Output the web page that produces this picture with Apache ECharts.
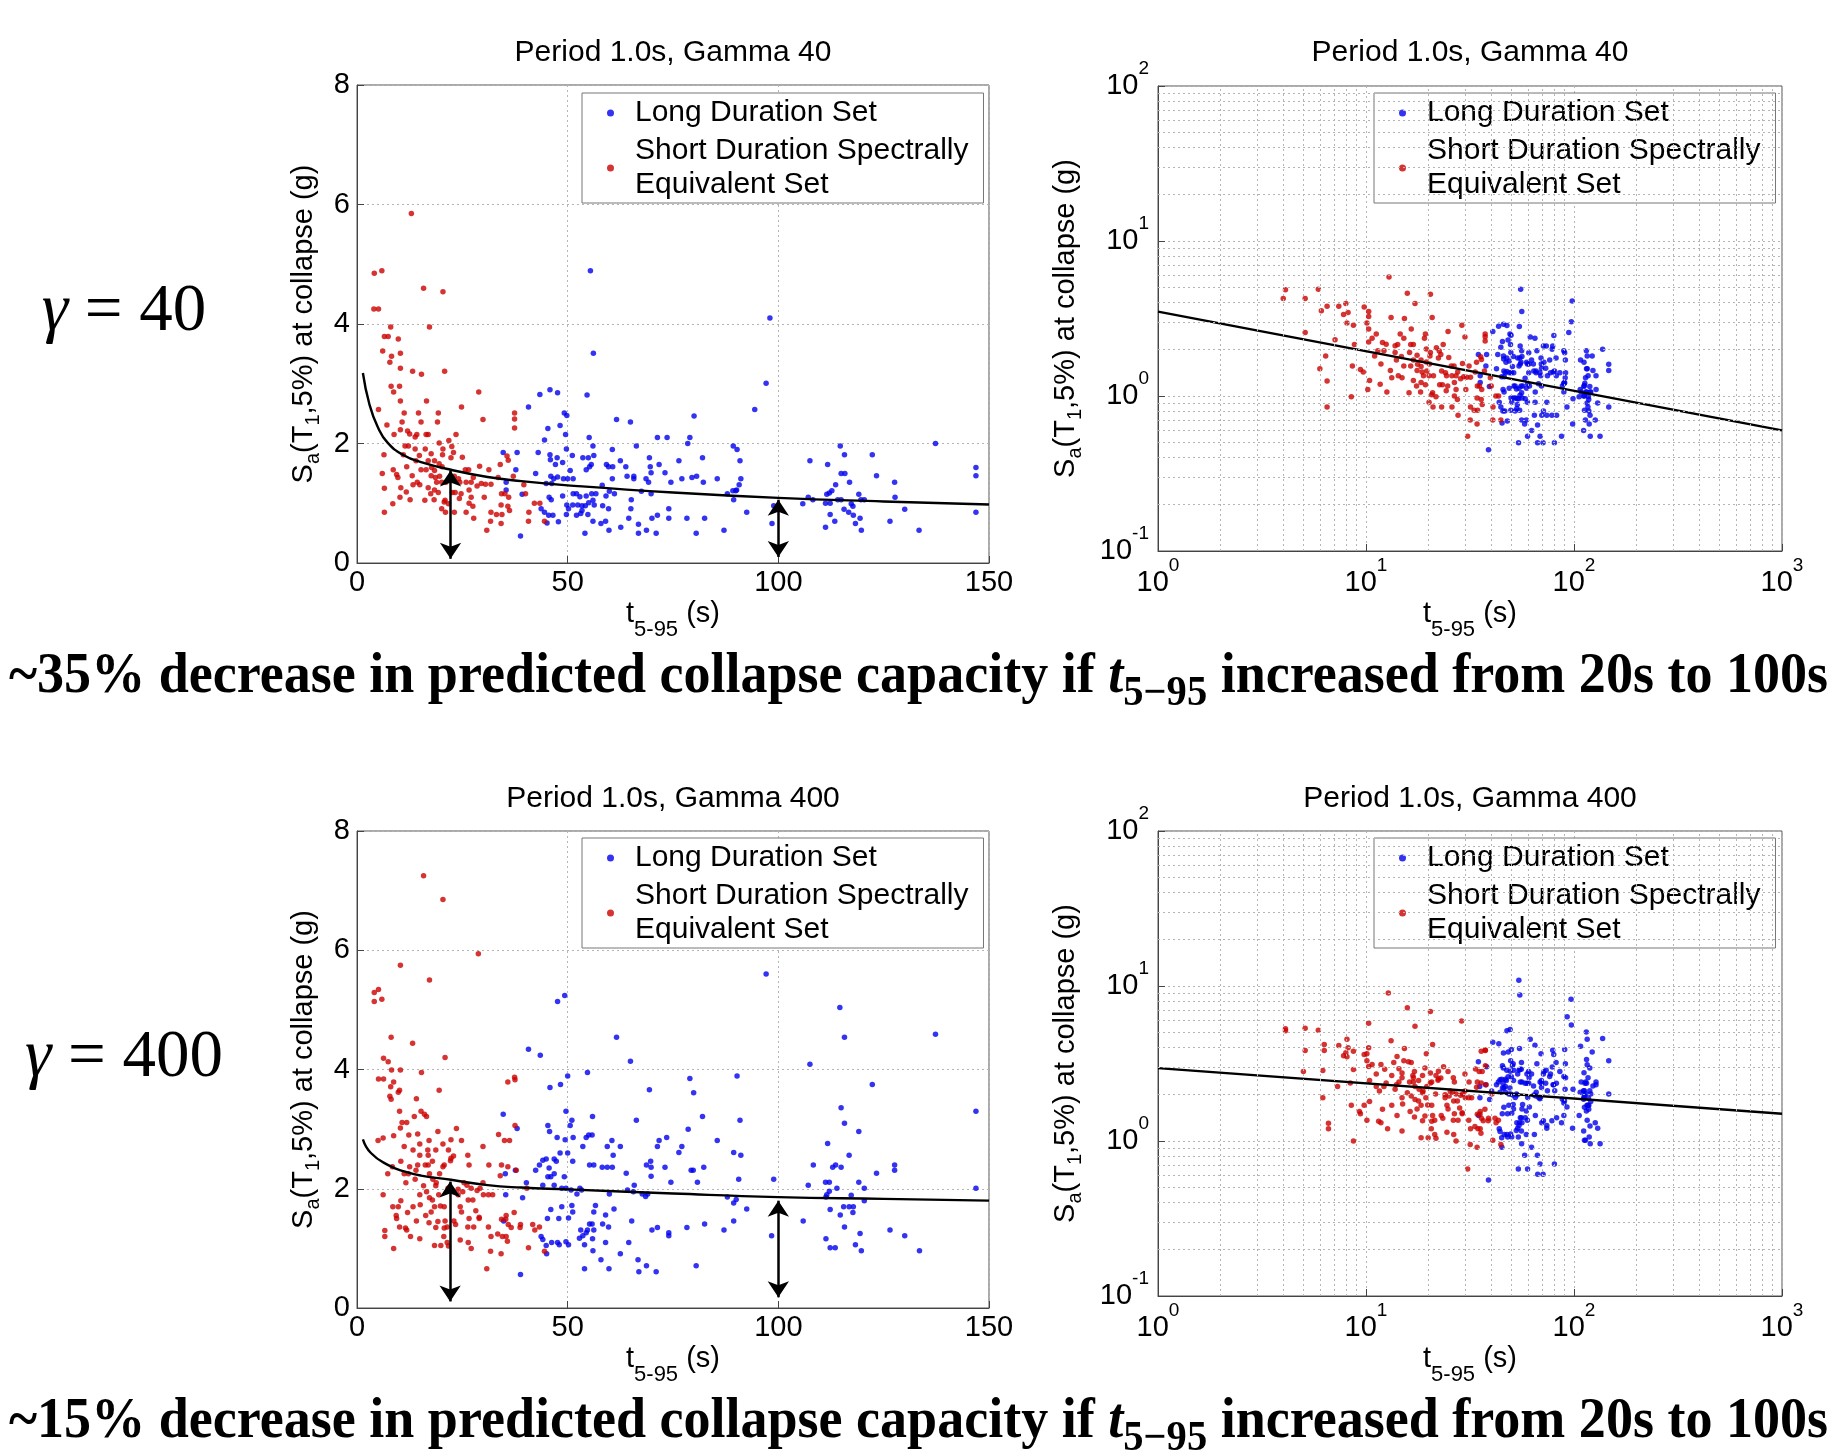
<!DOCTYPE html>
<html>
<head>
<meta charset="utf-8">
<script src="https://cdn.jsdelivr.net/npm/echarts@6/dist/echarts.min.js"></script>
<style>
html, body { margin: 0; padding: 0; background: #fff; }
#chart { width: 1827px; height: 1452px; }
</style>
</head>
<body>
<div id="chart"></div>
<script>
// t5-95 (s), Sa(T1,5%) at collapse (g)
var longG40 = [[43.4,2.82],[45.8,2.90],[47.6,2.85],[40.7,2.61],[49.2,2.51],[49.8,2.47],[45.3,2.25],[48.2,2.30],[44.5,2.06],[49.5,2.15],[49.7,1.91],[34.7,1.85],[38.0,1.85],[43.0,1.85],[45.8,1.81],[47.5,1.76],[45.9,1.73],[48.8,1.68],[47.1,1.65],[37.7,1.56],[42.4,1.50],[35.4,1.35],[46.0,1.45],[46.7,1.41],[47.6,1.44],[44.9,1.33],[46.2,1.33],[35.4,1.22],[39.2,1.15],[45.6,1.10],[46.1,1.06],[48.8,1.12],[43.7,0.91],[44.5,0.85],[45.5,0.80],[45.1,0.67],[46.5,0.80],[47.8,0.69],[49.7,0.81],[38.8,0.45],[49.8,0.97],
  [55.4,4.89],[98.0,4.10],[56.1,3.51],[97.1,3.01],[54.6,2.81],[94.4,2.57],[80.0,2.46],[61.6,2.40],[64.9,2.36],[55.1,2.10],[71.3,2.10],[73.6,2.10],[79.0,2.10],[78.5,2.00],[66.3,1.96],[56.0,1.96],[89.3,1.96],[90.2,1.90],[60.6,1.90],[51.1,1.80],[53.6,1.76],[54.9,1.76],[56.2,1.80],[69.4,1.76],[82.0,1.76],[90.9,1.71],[62.5,1.71],[76.4,1.71],[55.6,1.65],[55.2,1.61],[59.2,1.65],[59.7,1.61],[60.7,1.61],[63.8,1.61],[69.6,1.61],[71.7,1.65],[50.6,1.55],[54.4,1.56],[69.8,1.51],[73.1,1.51],[64.1,1.45],[65.7,1.45],[65.7,1.41],[60.6,1.41],[68.6,1.41],[69.2,1.35],[77.1,1.41],[79.5,1.43],[80.6,1.45],[85.5,1.41],[91.1,1.41],[90.7,1.31],[90.1,1.22],[49.0,1.41],[50.0,1.41],[51.3,1.41],[74.5,1.35],[82.2,1.35],[58.2,1.30],[59.9,1.20],[61.1,1.16],[67.5,1.20],[69.8,1.16],[87.9,1.16],[89.2,1.21],[89.9,1.21],[89.4,1.06],[51.3,1.16],[52.1,1.16],[52.9,1.11],[54.4,1.12],[55.7,1.16],[56.7,1.16],[56.0,1.05],[55.0,1.01],[56.3,0.97],[58.3,0.96],[59.1,1.12],[65.1,1.06],[65.0,0.91],[59.7,0.91],[50.2,0.91],[51.2,0.97],[52.4,0.97],[53.4,0.96],[54.2,0.96],[53.4,0.88],[52.1,0.80],[53.1,0.83],[54.8,0.81],[56.0,0.70],[57.9,0.66],[59.0,0.70],[59.8,0.55],[62.6,0.60],[64.5,0.75],[66.8,0.65],[66.8,0.50],[68.7,0.55],[71.0,0.50],[70.0,0.75],[71.3,0.80],[74.0,0.91],[74.0,0.75],[78.3,0.75],[80.5,0.50],[82.5,0.75],[87.1,0.55],[92.5,0.85],[98.5,0.66],[98.9,0.96],[54.1,0.50],
  [114.7,1.96],[137.3,2.00],[107.5,1.71],[115.7,1.81],[122.3,1.81],[111.7,1.65],[114.9,1.50],[115.8,1.50],[123.3,1.46],[127.6,1.35],[146.9,1.60],[146.9,1.46],[116.9,1.35],[113.6,1.31],[112.7,1.21],[112.1,1.17],[111.5,1.15],[119.1,1.15],[107.1,1.10],[108.2,1.06],[127.7,1.10],[105.8,0.99],[111.2,1.00],[112.3,1.00],[114.1,1.06],[114.9,1.06],[119.6,1.06],[120.4,1.06],[117.3,0.99],[117.7,0.95],[115.6,0.90],[116.7,0.85],[117.8,0.80],[130.0,0.90],[146.9,0.85],[112.3,0.81],[113.4,0.70],[119.4,0.75],[118.3,0.66],[111.2,0.60],[119.7,0.55],[126.5,0.70],[133.4,0.55]];

var shortG40 = [[12.9,5.85],[4.1,4.85],[5.9,4.89],[15.8,4.6],[20.4,4.54],[4.0,4.25],[5.1,4.25],[8.0,3.95],[17.2,3.95],[6.5,3.79],[7.4,3.79],[9.8,3.75],[6.1,3.55],[8.2,3.46],[10.3,3.51],[7.8,3.36],[10.3,3.26],[13.2,3.21],[15.3,3.16],[20.8,3.21],[8.1,2.96],[10.1,2.96],[8.7,2.86],[10.3,2.71],[16.5,2.71],[28.9,2.86],[24.8,2.61],[5.1,2.57],[11.2,2.51],[14.6,2.51],[19.3,2.51],[37.4,2.51],[37.4,2.41],[37.4,2.26],[29.9,2.40],[7.1,2.31],[10.7,2.36],[15.2,2.36],[19.1,2.36],[10.3,2.23],[12.0,2.21],[12.5,2.16],[8.8,2.15],[14.2,2.15],[16.4,2.15],[16.9,2.15],[13.8,2.11],[11.4,1.96],[12.2,1.96],[19.5,2.01],[21.8,2.05],[23.5,2.15],[13.8,1.91],[16.2,1.91],[20.4,1.91],[22.5,1.95],[6.4,1.81],[11.0,1.81],[14.8,1.80],[17.6,1.83],[20.3,1.81],[22.9,1.85],[25.0,1.77],[14.0,1.71],[16.9,1.71],[18.4,1.71],[19.5,1.66],[22.3,1.76],[8.6,1.56],[11.8,1.61],[15.2,1.56],[16.4,1.56],[17.7,1.60],[18.4,1.55],[20.2,1.61],[25.7,1.56],[26.5,1.56],[29.1,1.62],[31.3,1.56],[34.0,1.65],[35.9,1.72],[35.6,1.79],[6.0,1.50],[9.4,1.48],[9.7,1.43],[13.1,1.46],[17.6,1.46],[18.6,1.43],[19.6,1.45],[23.1,1.45],[24.1,1.41],[27.6,1.43],[33.5,1.43],[37.1,1.45],[14.3,1.35],[13.3,1.31],[14.9,1.31],[18.9,1.35],[20.1,1.35],[21.1,1.35],[24.4,1.35],[25.9,1.35],[27.1,1.35],[28.5,1.29],[29.5,1.33],[30.5,1.32],[31.8,1.32],[6.5,1.25],[10.4,1.26],[11.7,1.19],[16.9,1.26],[18.4,1.22],[17.5,1.16],[19.3,1.18],[22.6,1.18],[23.3,1.18],[24.7,1.16],[26.6,1.22],[34.3,1.16],[35.1,1.16],[39.6,1.31],[40.0,1.16],[10.2,1.10],[12.6,1.06],[16.1,1.05],[18.3,1.06],[20.9,1.05],[21.7,0.99],[24.3,1.08],[27.1,1.10],[30.2,1.10],[36.0,1.10],[8.5,0.99],[20.7,1.02],[20.1,0.91],[26.6,1.00],[27.5,0.95],[34.2,0.97],[35.8,0.95],[42.1,1.00],[43.4,1.00],[6.5,0.85],[21.0,0.85],[23.1,0.85],[25.9,0.85],[31.8,0.85],[33.1,0.81],[34.4,0.81],[36.2,0.88],[40.8,0.85],[27.7,0.75],[31.7,0.70],[34.2,0.66],[40.7,0.70],[44.5,0.70],[30.8,0.55]];

var longG400 = [[47.6,5.14],[49.3,5.24],[40.7,4.34],[43.5,4.24],[50.0,3.89],[45.8,3.70],[48.3,3.75],[34.7,3.25],[49.6,3.30],[45.3,3.06],[45.7,2.96],[38.0,3.01],[47.5,2.86],[49.4,2.82],[48.2,2.60],[50.0,2.60],[44.9,2.50],[44.1,2.48],[46.8,2.50],[47.3,2.46],[43.3,2.40],[45.6,2.35],[37.6,2.31],[42.4,2.31],[35.2,2.25],[46.8,2.25],[46.0,2.20],[45.3,2.20],[49.2,2.20],[40.2,2.10],[44.1,2.06],[46.8,2.06],[48.6,2.01],[35.3,1.90],[39.3,1.85],[46.0,1.65],[48.6,1.70],[45.2,1.50],[47.9,1.50],[34.8,1.46],[43.7,1.20],[44.1,1.15],[44.9,1.05],[46.2,1.10],[47.6,1.10],[45.0,0.91],[38.8,0.56],
  [54.3,10.9],[54.9,8.75],[96.8,8.2],[92.7,6.34],
  [97.1,5.60],[61.6,4.54],[64.9,4.14],[54.7,3.95],[79.0,3.85],[90.2,3.89],[69.4,3.66],[79.9,3.61],[55.9,3.21],[51.0,3.15],[50.6,3.06],[66.3,3.15],[82.0,3.21],[90.9,3.15],[78.6,3.00],[51.3,2.86],[54.4,2.86],[55.0,2.90],[55.8,2.90],[60.5,2.81],[71.7,2.81],[73.5,2.86],[85.5,2.81],[53.6,2.71],[59.4,2.71],[62.5,2.71],[71.3,2.71],[77.1,2.71],[76.4,2.61],[89.4,2.61],[91.1,2.56],[60.8,2.56],[51.2,2.46],[69.7,2.46],[55.2,2.40],[56.2,2.40],[58.2,2.36],[59.4,2.36],[60.6,2.36],[68.7,2.40],[69.8,2.36],[73.1,2.36],[79.3,2.31],[79.8,2.31],[82.3,2.36],[63.9,2.26],[69.8,2.21],[74.5,2.11],[80.8,2.11],[90.6,2.16],[98.9,2.16],[65.8,2.06],[49.6,2.01],[50.8,1.98],[52.9,2.01],[53.3,1.98],[52.2,1.91],[59.9,1.91],[64.2,1.98],[65.6,1.95],[67.7,1.91],[68.5,1.87],[69.0,1.91],[87.9,1.86],[90.0,1.82],[89.4,1.76],[51.0,1.72],[51.2,1.61],[56.6,1.72],[61.0,1.66],[50.2,1.51],[56.2,1.61],[59.0,1.56],[92.5,1.66],[55.2,1.41],[55.8,1.41],[56.2,1.31],[58.3,1.41],[59.7,1.36],[65.2,1.46],[82.5,1.41],[89.4,1.46],[53.1,1.31],[54.7,1.31],[54.4,1.26],[53.6,1.21],[52.8,1.17],[70.0,1.31],[71.3,1.35],[74.0,1.26],[74.0,1.21],[78.3,1.35],[87.1,1.31],[98.4,1.21],[48.0,1.06],[49.6,1.11],[50.2,1.06],[54.0,1.06],[55.9,1.16],[59.0,1.10],[64.5,1.10],[56.0,0.96],[62.5,0.91],[57.9,0.81],[66.7,0.81],[54.0,0.66],[59.8,0.66],[66.9,0.61],[68.7,0.71],[71.0,0.61],[80.5,0.71],
  [114.6,5.04],[137.3,4.59],[115.7,4.54],[107.5,4.09],[122.3,3.75],[114.9,3.36],[115.7,3.10],[119.1,2.96],[146.9,3.30],[111.7,2.76],[116.8,2.56],[108.3,2.40],[112.9,2.36],[113.6,2.40],[114.9,2.36],[127.6,2.40],[127.6,2.31],[123.3,2.26],[111.2,2.11],[112.1,2.11],[119.1,2.11],[107.1,2.06],[113.9,2.01],[120.4,2.01],[146.9,2.01],[112.1,1.96],[111.5,1.90],[111.3,1.86],[117.3,1.89],[120.4,1.80],[115.5,1.70],[116.8,1.70],[117.8,1.70],[112.3,1.65],[117.7,1.60],[114.7,1.56],[105.9,1.46],[115.7,1.36],[119.4,1.25],[126.5,1.31],[130.0,1.21],[111.3,1.16],[112.3,1.01],[113.5,1.01],[118.3,1.06],[119.7,0.96],[133.5,0.96]];

var shortG400 = [[12.8,9.0],[15.8,7.25],[20.4,6.85],[28.8,5.94],[10.3,5.75],[17.2,5.50],[4.1,5.29],[5.1,5.34],[4.1,5.14],[5.9,5.18],[8.1,4.54],[13.2,4.44],[6.3,4.19],[7.4,4.13],[20.9,4.20],[8.2,3.99],[10.3,3.99],[15.3,3.95],[5.1,3.84],[6.3,3.84],[8.7,3.79],[8.0,3.71],[35.8,3.79],[37.4,3.87],[37.5,3.83],[10.1,3.65],[9.8,3.62],[19.5,3.65],[7.8,3.55],[8.1,3.50],[14.1,3.51],[10.1,3.30],[15.2,3.30],[16.0,3.25],[16.5,3.21],[13.6,3.21],[10.7,3.11],[11.8,3.11],[37.5,3.06],[23.6,3.01],[10.3,3.02],[33.6,2.91],[8.7,2.89],[12.3,2.90],[14.4,2.92],[19.2,2.96],[6.2,2.85],[5.0,2.81],[17.1,2.81],[22.3,2.82],[24.8,2.81],[35.0,2.81],[36.2,2.81],[11.2,2.71],[14.9,2.75],[20.4,2.75],[29.9,2.71],[13.3,2.65],[16.8,2.65],[18.7,2.65],[21.7,2.65],[22.9,2.55],[22.3,2.51],[22.2,2.47],[14.9,2.56],[16.9,2.56],[17.9,2.46],[26.3,2.56],[10.4,2.46],[20.7,2.40],[20.4,2.37],[14.4,2.40],[16.2,2.40],[16.9,2.40],[26.6,2.40],[31.3,2.40],[34.3,2.40],[35.8,2.37],[37.8,2.31],[12.5,2.37],[14.0,2.31],[7.3,2.25],[11.2,2.25],[12.2,2.25],[17.2,2.25],[19.6,2.25],[34.0,2.22],[8.4,2.37],[13.8,2.16],[18.0,2.16],[18.8,2.10],[11.6,2.10],[25.4,2.10],[26.1,2.06],[29.9,2.10],[15.8,2.05],[18.7,2.05],[40.3,2.01],[21.6,2.01],[24.0,1.99],[27.1,2.01],[28.5,1.97],[29.2,2.01],[6.2,1.90],[14.9,1.90],[16.5,1.95],[19.4,1.90],[24.0,1.90],[25.1,1.95],[30.0,1.90],[31.2,1.90],[32.2,1.90],[17.2,1.85],[17.9,1.81],[26.4,1.81],[27.5,1.81],[10.4,1.80],[18.4,1.70],[19.8,1.71],[8.5,1.70],[9.8,1.70],[13.3,1.70],[15.0,1.73],[20.7,1.70],[24.5,1.70],[17.6,1.61],[28.2,1.63],[24.8,1.61],[12.0,1.60],[9.3,1.55],[9.4,1.50],[16.3,1.55],[35.4,1.55],[37.3,1.60],[35.3,1.49],[34.3,1.49],[29.0,1.52],[29.0,1.50],[14.1,1.46],[20.9,1.46],[17.1,1.43],[19.2,1.45],[23.0,1.46],[23.4,1.40],[26.6,1.50],[35.9,1.40],[38.8,1.40],[41.7,1.40],[10.1,1.36],[11.5,1.34],[11.8,1.31],[18.7,1.35],[20.7,1.34],[21.4,1.36],[26.3,1.36],[27.7,1.36],[31.2,1.36],[36.6,1.35],[38.7,1.35],[42.2,1.31],[43.3,1.36],[6.6,1.30],[6.6,1.20],[14.9,1.16],[20.6,1.20],[12.7,1.20],[31.8,1.20],[33.4,1.24],[34.5,1.20],[35.4,1.20],[35.7,1.12],[21.4,1.10],[21.7,1.04],[18.4,1.05],[19.9,1.05],[24.5,1.14],[26.4,1.10],[27.1,1.00],[8.7,1.00],[31.7,0.95],[34.2,0.91],[40.7,1.01],[44.5,0.95],[30.8,0.66]];

// fitted curve
var fitLinG40 = [[1.4,3.18],[2.9,2.67],[4.9,2.28],[7.3,2.01],[11.2,1.8],[15.2,1.69],[22.3,1.56],[31,1.44],[39,1.37],[50,1.3],[75,1.18],[100,1.09],[125,1.03],[150,0.98]];
var fitLinG400 = [[1.4,2.83],[3.3,2.6],[7.3,2.4],[11.2,2.29],[15.2,2.22],[22.3,2.15],[31,2.06],[39,2.02],[50,1.99],[75,1.92],[100,1.86],[125,1.83],[150,1.8]];
var fitLogG40 = [[1,3.5],[1000,0.6]];
var fitLogG400 = [[1,2.95],[1000,1.5]];

// double arrows: [t, from, to]
var arrowsG40 = [[22.2,0.07,1.55],[100,0.1,1.06]];
var arrowsG400 = [[22.1,0.11,2.12],[100,0.18,1.8]];

var titles = ['Period 1.0s, Gamma 40', 'Period 1.0s, Gamma 400'];
var LONG = 'Long Duration Set';
var SHORT = 'Short Duration Spectrally\nEquivalent Set';
var logMinor = [2, 3, 4, 5, 6, 7, 8, 9];
var xDecades = [1, 10, 100];
var yDecades = [0.1, 1, 10];

var FONT = 'Liberation Sans';
var SERIF = '"Liberation Serif", "Times New Roman", serif';

var grids = [
    {left: 357, top: 85, width: 632, height: 478},
    {left: 1158, top: 86, width: 624, height: 465},
    {left: 357, top: 831, width: 632, height: 477},
    {left: 1158, top: 831, width: 624, height: 465}
];

function labelStyle() {
    return {color: '#000', fontFamily: FONT, fontSize: 29};
}

var xName = 't{sub|5-95} (s)';
var yName = 'S{sub|a}(T{sub|1},5%) at collapse (g)';

function nameStyle(subPad, subSize) {
    return {
        color: '#000', fontFamily: FONT, fontSize: 29, lineHeight: 34,
        rich: {sub: {color: '#000', fontFamily: FONT, fontSize: subSize, verticalAlign: 'top', padding: [subPad, 0, 0, 0]}}
    };
}

function logLabel(v) {
    var e = Math.round(Math.log(v) / Math.LN10);
    return '10{sup|' + e + '}';
}

function logLabelStyle(margin) {
    return {
        color: '#000', fontFamily: FONT, fontSize: 29, lineHeight: 53, margin: margin,
        formatter: logLabel,
        rich: {sup: {color: '#000', fontFamily: FONT, fontSize: 19, verticalAlign: 'top'}}
    };
}

var axisLine = {lineStyle: {color: '#444', width: 1}};
var tick = {inside: true, length: 7, lineStyle: {color: '#444'}};
var dotted = {show: true, lineStyle: {color: '#b5b5b5', type: [2, 3], width: 1}};

var xAxes = [], yAxes = [];
[0, 2].forEach(function (g) {
    xAxes[g] = {
        gridIndex: g, type: 'value', min: 0, max: 150, interval: 50,
        axisLine: axisLine, axisTick: tick, splitLine: dotted,
        axisLabel: Object.assign(labelStyle(), {margin: 5}),
        name: xName, nameLocation: 'middle', nameGap: 34, nameMoveOverlap: false, nameTextStyle: nameStyle(22, 22)
    };
    yAxes[g] = {
        gridIndex: g, type: 'value', min: 0, max: 8, interval: 2,
        axisLine: axisLine, axisTick: tick, splitLine: dotted,
        axisLabel: Object.assign(labelStyle(), {margin: 7}),
        name: yName, nameLocation: 'middle', nameRotate: 90, nameGap: 36, nameMoveOverlap: false, nameTextStyle: nameStyle(16, 20)
    };
});
[1, 3].forEach(function (g) {
    xAxes[g] = {
        gridIndex: g, type: 'log', logBase: 10, min: 1, max: 1000,
        axisLine: axisLine, axisTick: tick, splitLine: dotted,
        axisLabel: logLabelStyle(5),
        name: xName, nameLocation: 'middle', nameGap: 46, nameMoveOverlap: false, nameTextStyle: nameStyle(22, 22)
    };
    yAxes[g] = {
        gridIndex: g, type: 'log', logBase: 10, min: 0.1, max: 100,
        axisLine: axisLine, axisTick: tick, splitLine: dotted,
        axisLabel: logLabelStyle(9),
        name: yName, nameLocation: 'middle', nameRotate: 90, nameGap: 75, nameMoveOverlap: false, nameTextStyle: nameStyle(16, 20)
    };
});

function minorLines() {
    var d = [];
    xDecades.forEach(function (dec) {
        logMinor.forEach(function (m) { d.push({xAxis: m * dec}); });
    });
    yDecades.forEach(function (dec) {
        logMinor.forEach(function (m) { d.push({yAxis: m * dec}); });
    });
    return d;
}

function scatter(name, data, g, color) {
    return {
        name: name, type: 'scatter', xAxisIndex: g, yAxisIndex: g, data: data,
        symbol: 'circle', symbolSize: 5.5, itemStyle: {color: color}, z: 2, silent: true
    };
}

function fitLine(data, g, smooth, arrows) {
    var s = {
        type: 'line', xAxisIndex: g, yAxisIndex: g, data: data, smooth: smooth,
        showSymbol: false, symbol: 'none', lineStyle: {color: '#000', width: 2.4}, z: 3, silent: true
    };
    if (arrows) {
        s.markLine = {
            silent: true, symbol: ['arrow', 'arrow'], symbolSize: 16, label: {show: false},
            lineStyle: {color: '#000', width: 2.5, type: 'solid'},
            data: arrows.map(function (a) {
                return [{coord: [a[0], a[1]]}, {coord: [a[0], a[2]]}];
            })
        };
    }
    return s;
}

function gridHelper(g) {
    return {
        type: 'line', xAxisIndex: g, yAxisIndex: g, data: [], z: 1, silent: true,
        markLine: {
            silent: true, symbol: ['none', 'none'], label: {show: false},
            lineStyle: {color: '#b5b5b5', type: [2, 3], width: 1},
            data: minorLines()
        }
    };
}

var BLUE = '#0000ee', RED = '#cc0000';

var series = [
    scatter(LONG, longG40, 0, BLUE), scatter(SHORT, shortG40, 0, RED), fitLine(fitLinG40, 0, true, arrowsG40),
    gridHelper(1), scatter(LONG, longG40, 1, BLUE), scatter(SHORT, shortG40, 1, RED), fitLine(fitLogG40, 1, false),
    scatter(LONG, longG400, 2, BLUE), scatter(SHORT, shortG400, 2, RED), fitLine(fitLinG400, 2, true, arrowsG400),
    gridHelper(3), scatter(LONG, longG400, 3, BLUE), scatter(SHORT, shortG400, 3, RED), fitLine(fitLogG400, 3, false)
];

function legendAt(left, top) {
    return {
        left: left, top: top, orient: 'vertical', selectedMode: false,
        data: [LONG, SHORT], icon: 'circle', itemWidth: 39, itemHeight: 7, itemGap: 4,
        padding: [3, 15, 1, 25], borderColor: '#777', borderWidth: 1, backgroundColor: '#fff',
        textStyle: {fontFamily: FONT, fontSize: 30, color: '#000', lineHeight: 34}
    };
}

function titleText(text, x, y) {
    return {type: 'text', x: x, y: y, silent: true,
        style: {text: text, font: '30px "Liberation Sans"', fill: '#000', textAlign: 'center', textVerticalAlign: 'middle'}};
}

function gammaText(value, x, y) {
    return {type: 'text', x: x, y: y, silent: true,
        style: {
            text: '{g|\u03b3}{n| = ' + value + '}', fill: '#000', textAlign: 'center', textVerticalAlign: 'middle',
            font: '67px ' + SERIF,
            rich: {g: {font: 'italic 67px ' + SERIF, fill: '#000'}, n: {font: '67px ' + SERIF, fill: '#000'}}
        }};
}

function noteText(pct, y) {
    return {type: 'text', x: 9, y: y, scaleX: 0.965, originX: 0, originY: 0, silent: true,
        style: {
            text: '{b|~' + pct + '% decrease in predicted collapse capacity if }{it|t}{sub|5\u221295}{b| increased from 20s to 100s}',
            fill: '#000', textAlign: 'left', textVerticalAlign: 'middle',
            font: 'bold 56px ' + SERIF, lineHeight: 60,
            rich: {
                b: {font: 'bold 56px ' + SERIF, fill: '#000'},
                it: {font: 'italic bold 56px ' + SERIF, fill: '#000'},
                sub: {font: 'bold 42px ' + SERIF, fill: '#000', verticalAlign: 'top', padding: [25, 0, 0, 0]}
            }
        }};
}

var chart = echarts.init(document.getElementById('chart'), null, {renderer: 'canvas'});
chart.setOption({
    animation: false,
    backgroundColor: '#fff',
    grid: grids.map(function (g) {
        return Object.assign({show: true, borderColor: '#555', borderWidth: 1, backgroundColor: 'transparent'}, g);
    }),
    xAxis: xAxes,
    yAxis: yAxes,
    legend: [legendAt(582, 93), legendAt(1374, 93), legendAt(582, 838), legendAt(1374, 838)],
    series: series,
    graphic: [
        titleText(titles[0], 673, 53), titleText(titles[0], 1470, 53),
        titleText(titles[1], 673, 799), titleText(titles[1], 1470, 799),
        gammaText('40', 124, 312), gammaText('400', 124, 1058),
        noteText('35', 678), noteText('15', 1423)
    ]
});
</script>
</body>
</html>
